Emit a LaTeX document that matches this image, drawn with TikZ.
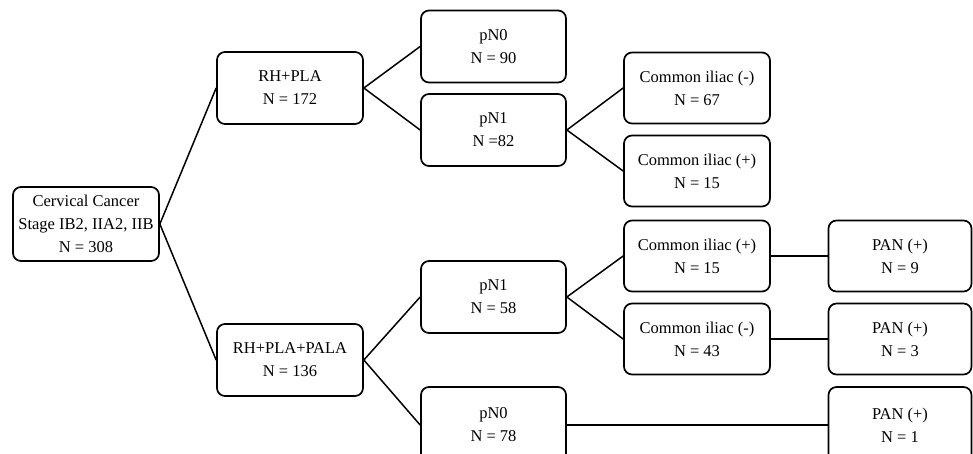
\documentclass[tikz,border=0pt]{standalone}
\usepackage{fontspec}
\setmainfont{Liberation Serif}
\begin{document}
\begin{tikzpicture}[x=1pt,y=-1pt,
  box/.style={draw, line width=1.7pt, rounded corners=8pt, align=center, inner sep=0pt,
    minimum width=145pt, minimum height=72pt, font=\fontsize{16.5}{23}\selectfont},
  link/.style={line width=1.5pt}]
\useasboundingbox (0,0) rectangle (973,453);
\node[box, minimum width=146pt, minimum height=74pt] (root) at (86,224) {Cervical Cancer\\Stage IB2, IIA2, IIB\\N = 308};
\node[box, minimum width=146pt] (a) at (290,88) {RH+PLA\\N = 172};
\node[box, minimum width=146pt] (b) at (290,360) {RH+PLA+PALA\\N = 136};
\node[box] (c) at (493.5,46.5) {pN0\\N = 90};
\node[box] (d) at (493.5,130) {pN1\\N =82};
\node[box, minimum width=146pt, minimum height=71pt] (e) at (697,88) {Common iliac (-)\\N = 67};
\node[box, minimum width=146pt, minimum height=71pt] (f) at (697,171) {Common iliac (+)\\N = 15};
\node[box] (g) at (493.5,297) {pN1\\N = 58};
\node[box, minimum width=146pt, minimum height=71pt] (h) at (697,256) {Common iliac (+)\\N = 15};
\node[box, minimum width=146pt, minimum height=71pt] (i) at (697,339) {Common iliac (-)\\N = 43};
\node[box, minimum width=143pt, minimum height=71pt] (j) at (900,256) {PAN (+)\\N = 9};
\node[box, minimum width=143pt, minimum height=71pt] (k) at (900,339) {PAN (+)\\N = 3};
\node[box, minimum height=76pt] (l) at (493.5,425) {pN0\\N = 78};
\node[box, minimum width=143pt, minimum height=76pt] (m) at (900,425) {PAN (+)\\N = 1};
\draw[link] (a.west) -- (root.east) -- (b.west);
\draw[link] (c.west) -- (a.east) -- (d.west);
\draw[link] (e.west) -- (d.east) -- (f.west);
\draw[link] (g.west) -- (b.east) -- (l.west);
\draw[link] (h.west) -- (g.east) -- (i.west);
\draw[link] (h.east) -- (j.west);
\draw[link] (i.east) -- (k.west);
\draw[link] (l.east) -- (m.west);
\end{tikzpicture}
\end{document}
